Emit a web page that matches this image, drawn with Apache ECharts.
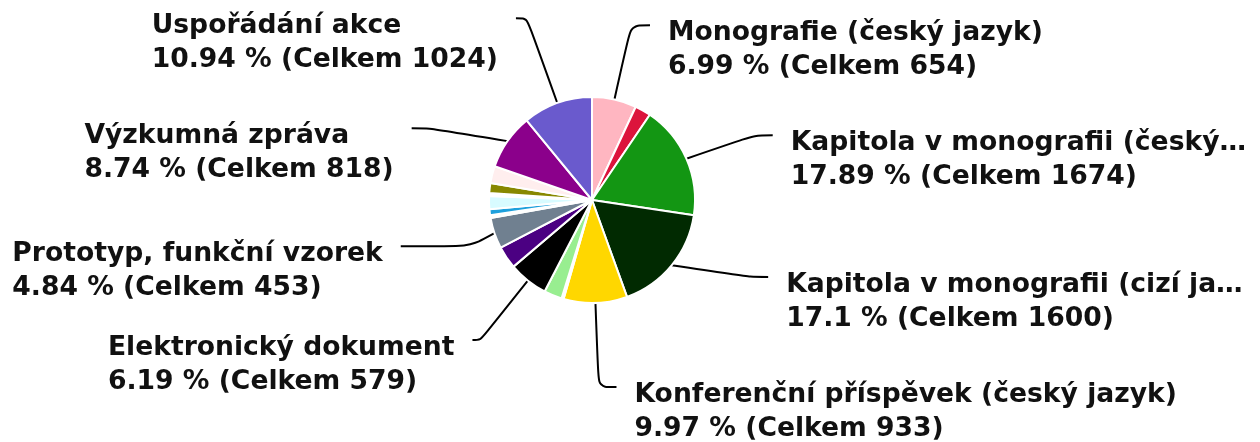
<!DOCTYPE html>
<html>
<head>
<meta charset="utf-8">
<script src="https://cdn.jsdelivr.net/npm/echarts@6/dist/echarts.min.js"></script>
<style>
  html, body { margin: 0; padding: 0; background: #fff; overflow: hidden; }
  .wrap { width: 1260px; height: 442px; overflow: hidden; }
  .pie { width: 1260px; height: 479px; margin-top: -37px; }
</style>
</head>
<body>
<div class="wrap"><div class="pie"></div></div>
<script>
// druhy výsledků, po směru hodin od 12 h
var names = [
    'Monografie (český jazyk)',
    'Monografie (cizí jazyk)',
    'Kapitola v monografii (český jazyk)',
    'Kapitola v monografii (cizí jazyk)',
    'Konferenční příspěvek (český jazyk)',
    'Konferenční příspěvek (cizí jazyk)',
    'Článek v odborném periodiku',
    'Elektronický dokument',
    'Patent',
    'Prototyp, funkční vzorek',
    'Software',
    'Mapa',
    'Poloprovoz',
    'Audiovizuální tvorba',
    'Specializovaná databáze',
    'Uspořádání výstavy',
    'Výzkumná zpráva',
    'Uspořádání akce'
];
var values = [654, 234, 1674, 1600, 933, 30, 266, 579, 332, 453, 40, 90, 190, 45, 145, 250, 818, 1024];
var showLabel = [1, 0, 1, 1, 1, 0, 0, 1, 0, 1, 0, 0, 0, 0, 0, 0, 1, 1];
var colors = ['#ffb6c1', '#dc143c', '#139613', '#012a01', '#ffd700', '#4a5a6a', '#98ee90',
    '#000000', '#4b0082', '#708090', '#fffff0', '#1ea0dc', '#d8fbff', '#ffffff',
    '#888800', '#ffeeee', '#8b008b', '#6a5acd'];

var total = values.reduce(function (a, b) { return a + b; }, 0);

// délky vodicích čar pro několik popisků, jinak výchozí
var lineTweaks = {
    'Monografie (český jazyk)': { length: 76, length2: 19 },
    'Prototyp, funkční vzorek': { length: 40, length2: 70 },
    'Elektronický dokument': { length: 76, length2: 8 },
    'Uspořádání akce': { length: 90, length2: 11 }
};

var myChart = echarts.init(document.querySelector('.pie'));

var data = names.map(function (n, i) {
    var item = { name: n, value: values[i], itemStyle: { color: colors[i] } };
    if (!showLabel[i]) {
        item.label = { show: false };
        item.labelLine = { show: false };
    }
    if (lineTweaks[n]) {
        item.labelLine = lineTweaks[n];
    }
    // nejspodnější levý popisek bez rezervy pod textem
    if (n === 'Elektronický dokument') {
        item.label = { padding: 0 };
    }
    return item;
});

var option = {
    animation: false,
    series: [
        {
            type: 'pie',
            center: [592, 237],
            radius: 103,
            startAngle: 90,
            avoidLabelOverlap: true,
            itemStyle: {
                borderColor: '#ffffff',
                borderWidth: 2
            },
            label: {
                show: true,
                position: 'outside',
                color: '#111',
                fontFamily: 'DejaVu Sans',
                fontWeight: 'bold',
                fontSize: 26.6,
                lineHeight: 34,
                padding: [0, 0, 40, 0],
                distanceToLabelLine: 18,
                ellipsis: '…',
                formatter: function (p) {
                    var pct = parseFloat((p.value / total * 100).toFixed(2));
                    return '{a|' + p.name + '}\n{a|' + pct + ' % (Celkem ' + p.value + ')}';
                },
                rich: {
                    a: {
                        align: 'left',
                        color: '#111',
                        fontFamily: 'DejaVu Sans',
                        fontWeight: 'bold',
                        fontSize: 26.6,
                        lineHeight: 34
                    }
                }
            },
            labelLine: {
                show: true,
                length: 90,
                length2: 18,
                smooth: 0.3,
                lineStyle: { color: '#000', width: 2 }
            },
            // text začíná u konce vodicí čáry (horní okraj prvního řádku)
            labelLayout: function (params) {
                if (!params.labelLinePoints) {
                    return {};
                }
                return {
                    verticalAlign: 'top',
                    y: params.labelRect.y + params.labelRect.height / 2 - 9,
                    labelLinePoints: params.labelLinePoints
                };
            },
            emphasis: { disabled: true },
            data: data
        }
    ]
};

myChart.setOption(option);
window.addEventListener('resize', function () {
    myChart.resize();
});
</script>
</body>
</html>
